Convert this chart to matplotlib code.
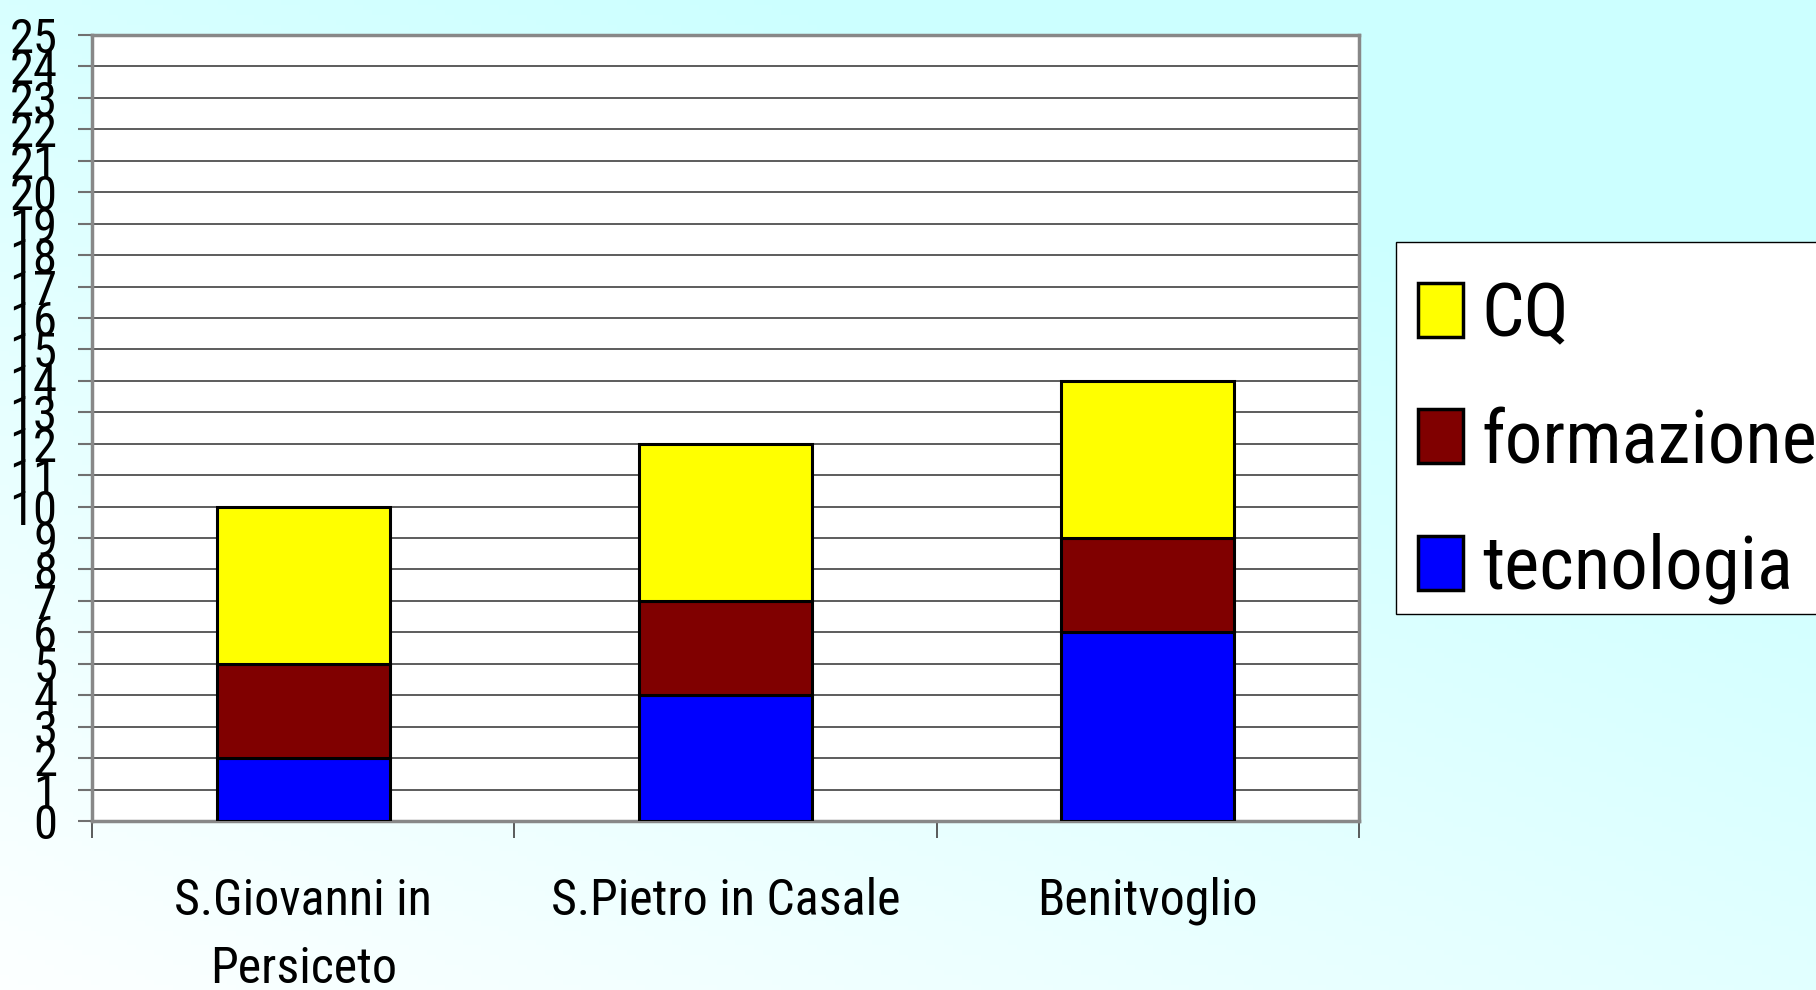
import numpy as np
import matplotlib
matplotlib.use("Agg")
import matplotlib.pyplot as plt
from matplotlib import font_manager
from matplotlib.patches import Patch, Rectangle

categories = ["S.Giovanni in\nPersiceto", "S.Pietro in Casale", "Benitvoglio"]
tecnologia = [2, 4, 6]
formazione = [3, 3, 3]
cq = [5, 5, 5]
series_names = ["CQ", "formazione", "tecnologia"]
y_ticks = list(range(0, 26))

# look for a narrow / condensed sans font
prefs = ["Liberation Sans Narrow", "Arial Narrow", "Roboto Condensed", "Open Sans Condensed",
         "Noto Sans Condensed", "Noto Sans SemiCondensed", "DejaVu Sans Condensed"]
chosen = None
entries = font_manager.fontManager.ttflist
for p in prefs:
    for f in entries:
        if f.name == p and f.weight in (400, "normal", "regular") and f.style == "normal":
            chosen = f.fname
            break
    if chosen:
        break
if chosen is None:
    for f in entries:
        st = str(f.stretch).lower()
        fn = f.fname.lower()
        if ("condensed" in st or "narrow" in fn or "condensed" in fn) and f.style == "normal" \
                and "bold" not in fn and "light" not in fn and "black" not in fn and "medium" not in fn \
                and "thin" not in fn and "italic" not in fn and "semibold" not in fn and "extra" not in fn:
            if "sans" in fn or "roboto" in fn or "lato" in fn or "inter" in fn:
                chosen = f.fname
                break

if chosen:
    def FP(size):
        return font_manager.FontProperties(fname=chosen, size=size)
    SCALE = 1.0
else:
    def FP(size):
        return font_manager.FontProperties(family="Liberation Sans", size=size)
    SCALE = 0.85

W, H, DPI = 1816, 990, 100
fig = plt.figure(figsize=(W / DPI, H / DPI), dpi=DPI)

bg = fig.add_axes([0, 0, 1, 1], zorder=-10)
gx, gy = np.meshgrid(np.linspace(0, 1, 200), np.linspace(0, 1, 200))
t = np.clip(0.55 * gx + 0.75 * (1 - gy), 0, 1)
c0 = np.array([0.99, 1.0, 1.0])
c1 = np.array([0.80, 1.0, 1.0])
img = c0[None, None, :] * (1 - t[..., None]) + c1[None, None, :] * t[..., None]
bg.imshow(img, aspect="auto", extent=[0, 1, 0, 1], origin="upper")
bg.axis("off")

ax = fig.add_axes([92 / W, 1 - 821 / H, (1359 - 92) / W, (821 - 35) / H])
ax.set_facecolor("white")

x = np.arange(len(categories))
bw = 0.41
ax.bar(x, tecnologia, bw, color="#0000FF", edgecolor="black", linewidth=2.2, zorder=3)
ax.bar(x, formazione, bw, bottom=tecnologia, color="#800000", edgecolor="black", linewidth=2.2, zorder=3)
bottom2 = [a + b for a, b in zip(tecnologia, formazione)]
ax.bar(x, cq, bw, bottom=bottom2, color="#FFFF00", edgecolor="black", linewidth=2.2, zorder=3)

ax.set_xlim(-0.5, len(categories) - 0.5)
ax.set_ylim(0, 25)
ax.set_yticks(y_ticks)
ax.set_yticklabels([str(v) for v in y_ticks], fontproperties=FP(35 * SCALE))
ax.yaxis.grid(True, color="#303030", linewidth=1.1, zorder=0)
ax.set_axisbelow(True)

ax.set_xticks(x)
ax.set_xticklabels(categories, fontproperties=FP(36 * SCALE), linespacing=1.55)
ax.tick_params(axis="x", which="major", length=0, pad=40)
ax.set_xticks(np.arange(-0.5, len(categories)), minor=True)
ax.tick_params(axis="x", which="minor", length=12, width=1.2, color="#404040", direction="out")
ax.tick_params(axis="y", length=10, width=1.5, color="#707070", pad=15, direction="out")

for s in ax.spines.values():
    s.set_color("#888888")
    s.set_linewidth(2.5)

# legend frame (extends past the right edge as in the reference)
frame = Rectangle((1396 / W, 1 - 614 / H), (1840 - 1396) / W, (614 - 242) / H,
                  transform=fig.transFigure, facecolor="white", edgecolor="black",
                  linewidth=1.0, zorder=1)
fig.patches.append(frame)

handles = [Patch(facecolor="#FFFF00", edgecolor="black", linewidth=2.5),
           Patch(facecolor="#800000", edgecolor="black", linewidth=2.5),
           Patch(facecolor="#0000FF", edgecolor="black", linewidth=2.5)]
leg = fig.legend(handles, series_names, loc="upper left",
                 bbox_to_anchor=(1418 / W, 1 - 280 / H), prop=FP(54 * SCALE),
                 frameon=False,
                 handlelength=0.6, handleheight=0.73, handletextpad=0.25,
                 labelspacing=0.74, borderpad=0.0, borderaxespad=0)
leg.set_zorder(2)

fig.savefig("out.png", dpi=DPI)
